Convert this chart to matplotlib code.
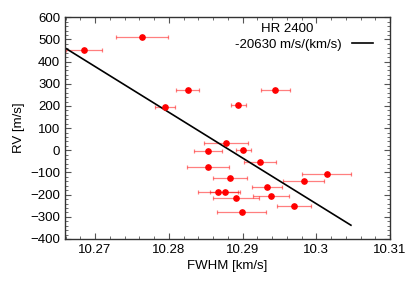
import matplotlib
matplotlib.use("Agg")
import matplotlib.pyplot as plt
from matplotlib.ticker import MultipleLocator, FuncFormatter
import numpy as np

fwhm = [10.26847, 10.27641, 10.28257, 10.27945, 10.28943, 10.29445, 10.28776,
        10.28536, 10.29007, 10.29241, 10.28536, 10.28826, 10.30142, 10.29830,
        10.29332, 10.28664, 10.28763, 10.29391, 10.28912, 10.29694, 10.28989]
rv = [452, 512, 273, 194, 203, 271, 33,
      -2, 1, -54, -77, -124, -108, -140,
      -167, -188, -187, -205, -215, -252, -277]
fwhm_err = [0.00244, 0.0035, 0.00156, 0.00133, 0.00099, 0.0020, 0.00294,
            0.0019, 0.00102, 0.00217, 0.00282, 0.0023, 0.00335, 0.0028,
            0.0020, 0.0027, 0.0020, 0.00244, 0.00315, 0.00228, 0.0033]

# linear fit: slope and a point on the line
fit_slope = -20630.0
fit_x = [10.26593, 10.30470]
fit_anchor = (10.28532, 62.0)

plt.rcParams['font.family'] = ['Liberation Sans', 'DejaVu Sans']
plt.rcParams['font.size'] = 9.5

fig = plt.figure(figsize=(4.15, 2.83), dpi=100)
ax = fig.add_axes([0.1566, 0.1555, 0.7832, 0.7834])

ax.errorbar(fwhm, rv, xerr=fwhm_err, fmt='none', ecolor=(1, 0, 0, 0.5),
            elinewidth=0.9, capsize=1.5, capthick=0.9)
ax.plot(fwhm, rv, 'o', color='red', markersize=3.8, zorder=3)

fx = np.array(fit_x)
fy = fit_anchor[1] + fit_slope * (fx - fit_anchor[0])
ax.plot(fx, fy, color='black', lw=1.2, label='-20630 m/s/(km/s)')

ax.set_xlim(10.26593, 10.31)
ax.set_ylim(-400, 600)
ax.xaxis.set_major_locator(MultipleLocator(0.01))
ax.xaxis.set_minor_locator(MultipleLocator(0.002))
ax.xaxis.set_major_formatter(FuncFormatter(lambda v, p: '%g' % round(v, 4)))
ax.yaxis.set_major_locator(MultipleLocator(100))
ax.yaxis.set_minor_locator(MultipleLocator(20))
ax.tick_params(which='both', direction='in', top=True, right=True, color='#555555')
ax.tick_params(which='major', length=4)
ax.tick_params(which='minor', length=2)
for s in ax.spines.values():
    s.set_color('#333333')
    s.set_linewidth(1.0)

ax.set_xlabel('FWHM [km/s]', labelpad=3)
ax.set_ylabel('RV [m/s]', labelpad=4)

ax.legend(loc='upper right', frameon=False, markerfirst=False,
          handlelength=1.6, handletextpad=0.8, borderaxespad=0.2,
          bbox_to_anchor=(0.972, 0.94))
ax.text(0.683, 0.946, 'HR 2400', transform=ax.transAxes, ha='center', va='center')

fig.savefig('out.png', dpi=100)
